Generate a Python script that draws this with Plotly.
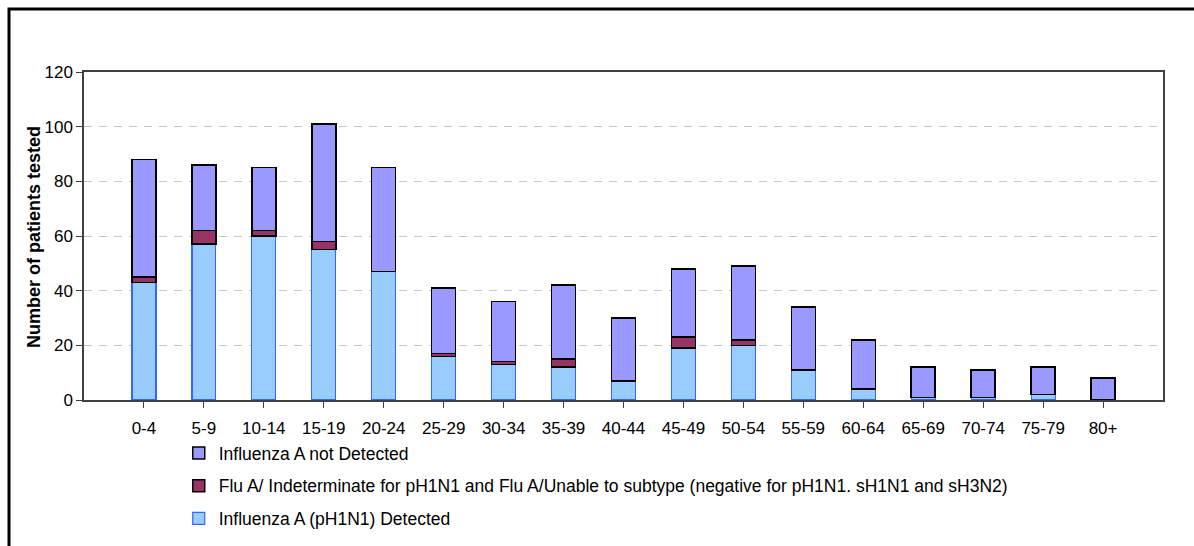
import plotly.graph_objects as go

# Age groups (years)
age_groups = ["0-4", "5-9", "10-14", "15-19", "20-24", "25-29", "30-34", "35-39",
              "40-44", "45-49", "50-54", "55-59", "60-64", "65-69", "70-74", "75-79", "80+"]

# Patients tested per age group, split by result
ph1n1_detected = [43, 57, 60, 55, 47, 16, 13, 12, 7, 19, 20, 11, 4, 1, 1, 2, 0]
indeterminate = [2, 5, 2, 3, 0, 1, 1, 3, 0, 4, 2, 0, 0, 0, 0, 0, 0]
total_tested = [88, 86, 85, 101, 85, 41, 36, 42, 30, 48, 49, 34, 22, 12, 11, 12, 8]
not_detected = [t - d - i for t, d, i in zip(total_tested, ph1n1_detected, indeterminate)]

y_ticks = [0, 20, 40, 60, 80, 100, 120]

FONT = "Liberation Sans, Arial, sans-serif"
TEXT_SIZE = 17
PLOT_L, PLOT_R, PLOT_T, PLOT_B = 84, 1163, 72, 400


def nz(values):
    # zero-height segments are left out so they draw no outline
    return [v if v else None for v in values]


fig = go.Figure()
fig.add_trace(go.Bar(
    x=age_groups, y=nz(ph1n1_detected), name="Influenza A (pH1N1) Detected",
    marker=dict(color="#99CCFF", line=dict(color="#3366FF", width=1.2)),
    width=0.4, legendgroup="a", legendrank=3,
))
fig.add_trace(go.Bar(
    x=age_groups, y=nz(indeterminate),
    name="Flu A/ Indeterminate for pH1N1 and Flu A/Unable to subtype (negative for pH1N1. sH1N1 and sH3N2)",
    marker=dict(color="#993366", line=dict(color="#000000", width=1.5)),
    width=0.4, legendgroup="b", legendrank=2,
))
fig.add_trace(go.Bar(
    x=age_groups, y=nz(not_detected), name="Influenza A not Detected",
    marker=dict(color="#9999FF", line=dict(color="#000000", width=1.5)),
    width=0.4, legendgroup="c", legendrank=1,
))

plot_w = PLOT_R - PLOT_L
plot_h = PLOT_B - PLOT_T

fig.update_layout(
    width=1194, height=546,
    barmode="stack",
    paper_bgcolor="white", plot_bgcolor="white",
    margin=dict(l=PLOT_L, r=1194 - PLOT_R, t=PLOT_T, b=546 - PLOT_B, autoexpand=False),
    font=dict(family=FONT, size=TEXT_SIZE, color="#000000"),
    showlegend=True,
    legend=dict(
        orientation="v", traceorder="grouped", tracegroupgap=7,
        xref="container", yref="container",
        x=0.1497, y=1 - 435 / 546, xanchor="left", yanchor="top",
        font=dict(family=FONT, size=17.5, color="#000000"),
        bgcolor="rgba(0,0,0,0)", itemwidth=30,
    ),
    xaxis=dict(
        type="category", range=[-1, 17],
        showline=True, linecolor="#404040", linewidth=1.5, mirror=True,
        ticks="outside", ticklen=6, tickcolor="#404040", tickwidth=1,
        ticklabelstandoff=6,
        showgrid=False, tickfont=dict(size=TEXT_SIZE), tickangle=0,
    ),
    yaxis=dict(
        range=[0, 120], tickvals=y_ticks,
        showline=True, linecolor="#404040", linewidth=1.5, mirror=True,
        ticks="outside", ticklen=6, tickcolor="#404040", tickwidth=1,
        showgrid=True, gridcolor="#C8C8C8", griddash="8px,7px", gridwidth=1,
        zeroline=False, tickfont=dict(size=TEXT_SIZE),
    ),
    annotations=[dict(
        text="<b>Number of patients tested</b>", textangle=-90,
        xref="paper", yref="paper",
        x=(34 - PLOT_L) / plot_w, y=(PLOT_B - 237) / plot_h,
        xanchor="center", yanchor="middle", showarrow=False,
        font=dict(family=FONT, size=18, color="#000000"),
    )],
    shapes=[dict(
        type="rect", xref="paper", yref="paper",
        x0=(9 - PLOT_L) / plot_w, x1=1.5, y0=-1.0, y1=(PLOT_B - 9) / plot_h,
        line=dict(color="#000000", width=3), fillcolor="rgba(0,0,0,0)", layer="below",
    )],
)

fig.write_html("out.html")
